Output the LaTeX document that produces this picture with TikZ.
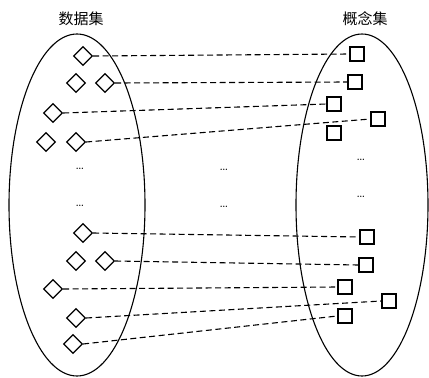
\documentclass[tikz,border=0pt]{standalone}
\usepackage{fontspec}
\newfontfamily\cjk{Noto Sans CJK SC}
\usetikzlibrary{shapes.geometric}

\begin{document}
\begin{tikzpicture}[x=1pt,y=-1pt]
	\tikzset{item/.style={draw,diamond,inner sep=0pt,minimum size=19pt,line width=1.2pt}}
	\tikzset{concept/.style={draw,rectangle,inner sep=0pt,minimum size=14pt,line width=1.2pt}}
	\tikzset{link/.style={dashed,dash pattern=on 6pt off 3.5pt,line width=1.1pt}}
	\tikzset{more/.style={font=\fontsize{14}{16}\selectfont}}
	\useasboundingbox (0,0) rectangle (429,378);

	% the two sets
	\draw[line width=1.1pt] (77,205) ellipse (68 and 171);
	\draw[line width=1.1pt] (362,205) ellipse (66 and 171);
	\node (ds) at (81,19) {\cjk\fontsize{15}{18}\selectfont 数据集};
	\node (cs) at (365,19) {\cjk\fontsize{15}{18}\selectfont 概念集};

	% data items
	\node[item] (d1) at (83,56) {};
	\node[item] (d2) at (76,83) {};
	\node[item] (d3) at (105,83) {};
	\node[item] (d4) at (53,113) {};
	\node[item] (d5) at (46,142) {};
	\node[item] (d6) at (76,142) {};
	\node[more] (l1) at (80,169) {\ldots};
	\node[more] (l2) at (80,206) {\ldots};
	\node[item] (d7) at (83,233) {};
	\node[item] (d8) at (76,261) {};
	\node[item] (d9) at (105,261) {};
	\node[item] (d10) at (53,289) {};
	\node[item] (d11) at (76,318) {};
	\node[item] (d12) at (73,344) {};

	\node[more] (m1) at (224,170) {\ldots};
	\node[more] (m2) at (224,207) {\ldots};

	% concepts
	\node[concept] (c1) at (357,54) {};
	\node[concept] (c2) at (355,82) {};
	\node[concept] (c3) at (334,104) {};
	\node[concept] (c4) at (378,119) {};
	\node[concept] (c5) at (334,133) {};
	\node[more] (r1) at (361,160) {\ldots};
	\node[more] (r2) at (361,197) {\ldots};
	\node[concept] (c6) at (367,237) {};
	\node[concept] (c7) at (366,265) {};
	\node[concept] (c8) at (345,287) {};
	\node[concept] (c9) at (389,301) {};
	\node[concept] (c10) at (345,316) {};

	\draw[link] (d1.east) -- (c1.west);
	\draw[link] (d3.east) -- (c2.west);
	\draw[link] (d4.east) -- (c3.west);
	\draw[link] (d6.east) -- (c4.west);
	\draw[link] (d7.east) -- (c6.west);
	\draw[link] (d9.east) -- (c7.west);
	\draw[link] (d10.east) -- (c8.west);
	\draw[link] (d11.east) -- (c9.west);
	\draw[link] (d12.east) -- (c10.west);
\end{tikzpicture}
\end{document}
